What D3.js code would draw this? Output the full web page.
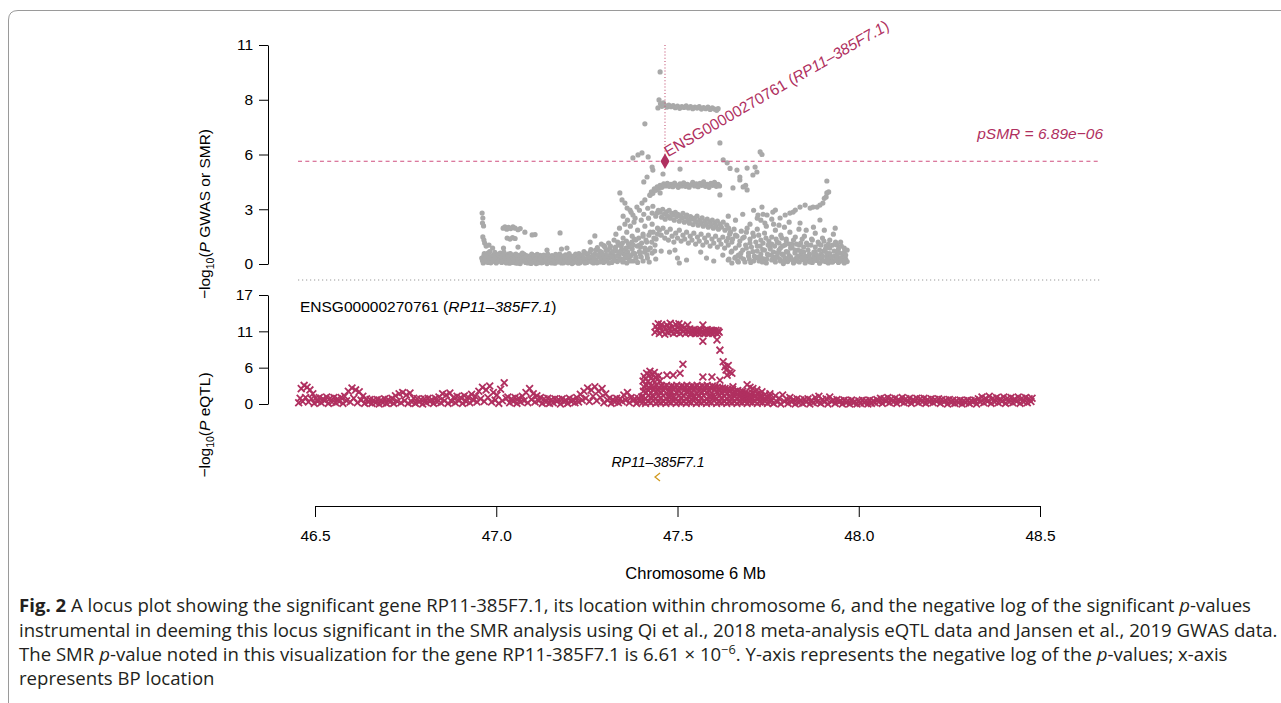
<!DOCTYPE html>
<html><head><meta charset="utf-8">
<script src="https://cdn.jsdelivr.net/npm/d3@7"></script>
<style>body{margin:0;background:#fff}svg{display:block}</style>
</head><body>
<svg id="c" width="1281" height="703"></svg>
<script>
// ---------- DATA ----------
const xTicks=[46.5,47.0,47.5,48.0,48.5];
const xTickLabels=["46.5","47.0","47.5","48.0","48.5"];
const gwasTicks=[0,2.75,5.5,8.25,11];
const gwasTickLabels=["0","3","6","8","11"];
const eqtlTicks=[0,17/3,34/3,17];
const eqtlTickLabels=["0","6","11","17"];

const smrProbe={id:"ENSG00000270761",gene:"RP11–385F7.1",mb:47.4655,logp:5.16};
const pSMR=6.89e-06;
const pSMRLabel="pSMR = 6.89e−06";
const genes=[{name:"RP11–385F7.1",start:47.440,end:47.447,strand:"-"}];

const gwasBase=[[46.960,0.30],[46.964,0.05],[46.967,0.52],[46.971,0.18],[46.975,0.40],[46.978,0.08],[46.982,0.62],[46.986,0.25],[46.989,0.12],[46.993,0.45],[46.997,0.20],[47.000,0.05],[47.004,0.35],[47.008,0.15],[47.011,0.55],[47.015,0.08],[47.019,0.28],[47.022,0.42],[47.026,0.10],[47.030,0.22],[47.033,0.50],[47.037,0.04],[47.041,0.32],[47.044,0.15],[47.048,0.45],[47.052,0.06],[47.055,0.25],[47.059,0.38],[47.063,0.12],[47.066,0.02],[47.070,0.30],[47.074,0.18],[47.077,0.48],[47.081,0.08],[47.085,0.26],[47.088,0.14],[47.092,0.40],[47.096,0.03],[47.099,0.20],[47.103,0.33],[47.107,0.10],[47.110,0.02],[47.114,0.28],[47.118,0.15],[47.121,0.44],[47.125,0.06],[47.129,0.22],[47.132,0.12],[47.136,0.36],[47.140,0.02],[47.143,0.18],[47.147,0.30],[47.151,0.08],[47.154,0.42],[47.158,0.14],[47.162,0.04],[47.165,0.26],[47.169,0.10],[47.173,0.38],[47.176,0.18],[47.180,0.05],[47.184,0.30],[47.187,0.12],[47.191,0.46],[47.195,0.20],[47.198,0.06],[47.202,0.34],[47.206,0.14],[47.209,0.02],[47.213,0.24],[47.217,0.40],[47.220,0.10],[47.224,0.18],[47.228,0.52],[47.231,0.06],[47.235,0.28],[47.239,0.14],[47.242,0.62],[47.246,0.22],[47.250,0.08],[47.253,0.40],[47.257,0.16],[47.261,0.72],[47.264,0.30],[47.268,0.05],[47.272,0.50],[47.275,0.20],[47.279,0.82],[47.283,0.35],[47.286,0.10],[47.290,0.60],[47.294,0.25],[47.297,0.92],[47.301,0.45],[47.305,0.15],[47.308,0.70],[47.312,0.30],[47.316,0.55],[47.319,0.08],[47.323,0.40],[47.327,0.20],[47.330,0.65],[47.334,0.12],[47.338,0.45],[47.341,0.28],[47.345,0.70],[47.349,0.10],[47.352,0.50],[47.356,0.32],[47.360,0.05],[47.363,0.60],[47.367,0.22],[47.371,0.42],[47.375,0.75],[47.378,0.15],[47.382,0.52],[47.386,0.30],[47.390,0.08],[47.395,0.62],[47.400,0.35],[47.405,0.15],[47.410,0.80],[47.416,0.45],[47.422,0.10],[47.430,0.55],[47.440,0.25],[47.455,0.65],[47.478,0.60],[47.500,0.30],[47.505,0.05],[47.580,0.30],[47.600,0.15],[47.625,0.45],[47.640,0.20],[47.650,0.65],[47.660,0.35],[47.668,0.10],[47.675,0.55],[47.682,0.25],[47.690,0.80],[47.696,0.40],[47.702,0.08],[47.708,0.62],[47.714,0.30],[47.720,0.90],[47.725,0.15],[47.730,0.50],[47.735,0.72],[47.740,0.25],[47.745,0.05],[47.750,0.45],[47.755,0.85],[47.760,0.20],[47.765,0.60],[47.770,0.10],[47.775,0.38],[47.780,0.70],[47.784,0.15],[47.788,0.50],[47.792,0.02],[47.796,0.30],[47.800,0.62],[47.804,0.12],[47.808,0.42],[47.812,0.80],[47.816,0.22],[47.820,0.05],[47.824,0.55],[47.828,0.30],[47.832,0.70],[47.836,0.10],[47.840,0.45],[47.844,0.22],[47.848,0.60],[47.852,0.05],[47.856,0.35],[47.860,0.15],[47.864,0.50],[47.868,0.25],[47.872,0.08],[47.876,0.40],[47.880,0.62],[47.884,0.18],[47.888,0.30],[47.892,0.04],[47.896,0.48],[47.900,0.20],[47.904,0.65],[47.908,0.12],[47.912,0.35],[47.916,0.05],[47.920,0.52],[47.924,0.25],[47.928,0.10],[47.932,0.40],[47.936,0.18],[47.940,0.60],[47.944,0.08],[47.948,0.30],[47.952,0.15],[47.956,0.45],[47.960,0.05],[47.964,0.25],[47.968,0.12]];

const gwasBaseFill=[[46.962,0.18],[46.966,0.42],[46.970,0.28],[46.974,0.10],[46.977,0.55],[46.981,0.32],[46.985,0.06],[46.988,0.40],[46.992,0.22],[46.996,0.58],[46.999,0.30],[47.003,0.12],[47.006,0.48],[47.010,0.26],[47.014,0.38],[47.017,0.16],[47.021,0.60],[47.025,0.30],[47.028,0.05],[47.032,0.40],[47.036,0.20],[47.039,0.52],[47.043,0.08],[47.047,0.30],[47.050,0.20],[47.054,0.50],[47.058,0.04],[47.061,0.22],[47.065,0.45],[47.069,0.14],[47.072,0.55],[47.076,0.30],[47.080,0.18],[47.083,0.42],[47.087,0.05],[47.091,0.30],[47.094,0.18],[47.098,0.50],[47.102,0.10],[47.105,0.42],[47.109,0.24],[47.113,0.48],[47.116,0.06],[47.120,0.26],[47.124,0.34],[47.127,0.08],[47.131,0.45],[47.135,0.18],[47.138,0.28],[47.142,0.50],[47.146,0.12],[47.149,0.22],[47.153,0.05],[47.157,0.36],[47.160,0.20],[47.164,0.48],[47.168,0.28],[47.171,0.12],[47.175,0.50],[47.179,0.24],[47.182,0.40],[47.186,0.06],[47.190,0.22],[47.193,0.34],[47.197,0.12],[47.201,0.52],[47.204,0.24],[47.208,0.40],[47.212,0.06],[47.215,0.32],[47.219,0.50],[47.223,0.26],[47.226,0.04],[47.230,0.36],[47.234,0.18],[47.237,0.44],[47.241,0.30],[47.245,0.05],[47.248,0.52],[47.252,0.28],[47.256,0.36],[47.259,0.60],[47.263,0.10],[47.267,0.42],[47.270,0.28],[47.274,0.70],[47.278,0.06],[47.281,0.45],[47.285,0.65],[47.289,0.30],[47.292,0.50],[47.296,0.08],[47.300,0.30],[47.303,0.68],[47.307,0.42],[47.311,0.05],[47.314,0.80],[47.318,0.35],[47.322,0.62],[47.325,0.18],[47.329,0.85],[47.333,0.40],[47.337,0.95],[47.340,0.20],[47.344,0.55],[47.348,1.05],[47.351,0.25],[47.355,0.72],[47.359,1.15],[47.362,0.40],[47.366,0.85],[47.370,0.15],[47.374,1.10],[47.378,0.55],[47.381,1.25],[47.385,0.35],[47.389,0.90],[47.393,1.30],[47.397,0.50],[47.401,1.05],[47.405,1.40],[47.409,0.60],[47.413,1.20],[47.417,0.30],[47.421,1.45],[47.425,0.80],[47.429,1.10],[47.433,1.60],[47.437,0.65],[47.441,1.25],[47.445,1.50]];

const gwasLeft=[[46.961,2.56],[46.963,2.31],[46.962,2.06],[46.965,1.91],[46.963,1.36],[46.966,1.20],[46.968,1.05],[46.972,0.90],[46.980,0.95],[46.990,0.80],[47.019,1.80],[47.024,1.86],[47.029,1.75],[47.034,1.84],[47.040,1.78],[47.046,1.86],[47.052,1.80],[47.060,1.72],[47.066,1.78],[47.030,1.30],[47.038,1.25],[47.045,1.32],[47.052,1.28],[47.079,1.60],[47.099,1.46],[47.107,1.48],[47.176,1.56],[47.272,1.41],[47.259,1.10],[47.020,0.80],[47.060,0.85],[47.180,0.75],[47.195,0.80],[47.140,0.70],[47.290,1.00],[47.300,0.85],[47.310,1.05],[47.315,0.90],[47.325,1.20],[47.328,0.80]];

const gwasRise=[[47.341,3.57],[47.347,3.22],[47.355,3.06],[47.361,2.81],[47.369,2.71],[47.377,2.46],[47.388,2.86],[47.402,3.06],[47.410,3.22],[47.424,3.47],[47.430,2.56],[47.443,2.56],[47.452,3.57],[47.330,1.50],[47.335,1.10],[47.340,1.80],[47.345,0.90],[47.350,1.30],[47.355,2.00],[47.360,1.60],[47.365,1.00],[47.370,1.90],[47.375,1.40],[47.380,2.10],[47.385,1.20],[47.390,1.70],[47.395,0.95],[47.400,2.20],[47.405,1.50],[47.410,1.90],[47.415,1.10],[47.420,2.30],[47.425,1.60],[47.430,2.00],[47.435,1.30],[47.440,2.40],[47.445,1.80],[47.350,2.40],[47.362,2.20],[47.372,2.60],[47.383,2.30],[47.395,2.70],[47.407,2.50],[47.418,2.80],[47.432,2.90],[47.447,2.70],[47.338,0.60],[47.358,0.80],[47.378,0.95],[47.398,0.85],[47.418,0.70],[47.438,0.95]];

const gwasRibbonHigh=[[47.452,2.60],[47.456,2.35],[47.459,2.75],[47.463,2.50],[47.466,2.25],[47.470,2.62],[47.473,2.40],[47.477,2.70],[47.480,2.30],[47.484,2.55],[47.487,2.45],[47.491,2.20],[47.494,2.60],[47.498,2.38],[47.501,2.50],[47.505,2.15],[47.508,2.42],[47.512,2.30],[47.515,2.55],[47.519,2.10],[47.522,2.35],[47.526,2.45],[47.529,2.20],[47.533,2.05],[47.536,2.38],[47.540,2.25],[47.543,1.98],[47.547,2.30],[47.550,2.12],[47.554,2.40],[47.557,1.95],[47.561,2.20],[47.564,2.05],[47.568,2.32],[47.571,1.90],[47.575,2.15],[47.578,2.00],[47.582,2.25],[47.585,1.85],[47.589,2.10],[47.592,1.95],[47.596,2.20],[47.599,1.80],[47.603,2.05],[47.606,1.90],[47.610,2.15],[47.613,1.75],[47.617,2.00],[47.621,1.85],[47.626,2.10],[47.631,1.70],[47.636,1.95],[47.641,1.80],[47.646,1.60],[47.640,2.40],[47.660,2.20],[47.680,2.50],[47.700,2.00],[47.720,2.30],[47.710,2.70],[47.722,2.46],[47.730,2.20]];

const gwasRibbonLow=[[47.450,1.70],[47.455,1.45],[47.460,1.80],[47.465,1.30],[47.470,1.60],[47.475,1.20],[47.480,1.75],[47.485,1.40],[47.490,1.10],[47.495,1.55],[47.500,1.30],[47.505,1.70],[47.510,1.15],[47.515,1.45],[47.520,1.25],[47.525,1.60],[47.530,1.05],[47.535,1.40],[47.540,1.20],[47.545,1.55],[47.550,1.00],[47.555,1.35],[47.560,1.15],[47.565,1.50],[47.570,0.95],[47.575,1.30],[47.580,1.10],[47.585,1.45],[47.590,0.90],[47.595,1.25],[47.600,1.05],[47.605,1.40],[47.610,0.85],[47.615,1.20],[47.620,1.00],[47.625,1.35],[47.630,0.80],[47.635,1.15],[47.493,0.70],[47.525,0.20],[47.564,0.60]];

const gwasArc=[[47.424,3.45],[47.428,3.62],[47.432,3.55],[47.436,3.78],[47.440,3.70],[47.444,3.88],[47.448,3.80],[47.452,3.95],[47.457,3.85],[47.462,4.02],[47.467,3.92],[47.472,4.05],[47.477,3.90],[47.482,4.00],[47.487,3.88],[47.492,4.06],[47.497,3.95],[47.502,3.85],[47.507,4.02],[47.512,3.92],[47.517,4.08],[47.522,3.90],[47.527,4.00],[47.532,3.86],[47.537,3.98],[47.542,4.10],[47.547,3.92],[47.552,4.02],[47.557,3.88],[47.562,4.05],[47.567,3.95],[47.572,4.12],[47.577,3.90],[47.582,4.00],[47.587,3.85],[47.592,4.05],[47.597,3.95],[47.602,4.10],[47.607,3.90],[47.612,4.00],[47.616,3.92],[47.617,3.47]];

const gwasPeak=[[47.452,9.65],[47.410,7.04],[47.446,7.84],[47.449,8.24],[47.453,8.05],[47.457,7.92],[47.461,8.10],[47.466,7.96],[47.471,7.88],[47.476,7.98],[47.482,7.90],[47.488,7.95],[47.494,7.85],[47.500,7.93],[47.506,7.82],[47.512,7.90],[47.518,7.86],[47.524,7.94],[47.530,7.84],[47.536,7.90],[47.542,7.80],[47.548,7.88],[47.554,7.83],[47.560,7.90],[47.566,7.78],[47.572,7.85],[47.578,7.80],[47.584,7.88],[47.590,7.76],[47.596,7.84],[47.602,7.78],[47.608,7.72],[47.612,7.80],
[47.377,5.33],[47.391,5.48],[47.402,5.58],[47.419,5.38],[47.430,4.87],[47.432,4.72],[47.416,4.37],[47.407,4.12],[47.460,4.52],[47.507,4.77],[47.617,6.08],[47.626,5.23],[47.637,5.08],[47.645,4.80],[47.664,4.72],[47.692,4.82],[47.708,4.47],[47.714,4.87],[47.719,4.62],[47.672,4.22],[47.672,4.37],[47.681,3.87],[47.688,3.95],[47.653,3.82],[47.692,3.72],[47.728,5.63],[47.733,5.50]];

const gwasRight=[[47.733,2.86],[47.736,2.50],[47.741,2.06],[47.763,2.61],[47.747,2.46],[47.783,2.31],[47.797,2.46],[47.810,2.56],[47.825,2.71],[47.838,2.86],[47.852,2.96],[47.866,2.81],[47.885,2.86],[47.901,3.06],[47.905,3.30],[47.912,3.57],[47.917,3.62],[47.912,4.17],[47.893,2.21],[47.770,2.71],[47.819,2.61],[47.874,2.86],[47.893,2.96],[47.910,3.37],[47.838,2.06],[47.780,1.95],[47.808,2.10],[47.760,2.25],
[47.640,1.30],[47.650,1.10],[47.660,1.45],[47.670,0.95],[47.680,1.30],[47.690,1.60],[47.700,1.05],[47.710,1.40],[47.720,1.75],[47.730,1.20],[47.740,1.55],[47.750,0.95],[47.760,1.35],[47.770,1.70],[47.775,1.10],[47.785,1.45],[47.790,0.90],[47.800,1.25],[47.810,1.60],[47.815,1.00],[47.825,1.35],[47.835,1.75],[47.840,1.05],[47.850,1.40],[47.860,0.95],[47.870,1.25],[47.880,1.55],[47.890,1.00],[47.900,1.30],[47.910,0.90],[47.920,1.20],[47.930,1.50],[47.940,0.95],[47.950,1.10],[47.960,0.80],[47.745,1.90],[47.765,2.00],[47.795,1.85],[47.855,1.70],[47.875,1.85],[47.905,1.70],[47.935,1.80]];

const gwasRightMass=[[47.640,0.95],[47.644,1.50],[47.648,0.60],[47.652,1.25],[47.656,1.75],[47.660,0.80],[47.664,1.40],[47.668,0.45],[47.672,1.15],[47.676,1.65],[47.680,0.70],[47.684,1.35],[47.688,0.95],[47.692,1.80],[47.696,0.55],[47.700,1.25],[47.704,0.85],[47.708,1.55],[47.712,0.40],[47.716,1.10],[47.720,0.65],[47.724,1.45],[47.728,0.90],[47.732,0.30],[47.736,1.05],[47.740,0.70],[47.744,1.30],[47.748,0.50],[47.752,1.15],[47.756,0.75],[47.760,1.00],[47.764,0.35],[47.768,0.90],[47.772,1.25],[47.776,0.55],[47.780,1.05],[47.784,0.80],[47.788,1.30],[47.792,0.45],[47.796,0.95],[47.800,1.15],[47.804,0.60],[47.808,1.00],[47.812,0.35],[47.816,0.85],[47.820,1.20],[47.824,0.70],[47.828,1.00],[47.832,0.40],[47.836,0.95],[47.840,0.65],[47.844,1.25],[47.848,0.85],[47.852,0.40],[47.856,1.05],[47.860,0.70],[47.864,0.30],[47.868,0.95],[47.872,1.20],[47.876,0.60],[47.880,0.85],[47.884,0.45],[47.888,1.10],[47.892,0.70],[47.896,0.95],[47.900,0.40],[47.904,1.15],[47.908,0.75],[47.912,0.55],[47.916,1.00],[47.920,0.80],[47.924,0.35],[47.928,0.95],[47.932,0.65],[47.936,1.10],[47.940,0.40],[47.944,0.75],[47.948,0.55],[47.952,0.90],[47.956,0.30],[47.960,0.60],[47.964,0.45],[47.968,0.70],[47.642,0.25],[47.650,0.05],[47.658,0.30],[47.666,0.15],[47.674,0.35],[47.686,0.10],[47.698,0.25],[47.710,0.15],[47.722,0.35],[47.734,0.10],[47.746,0.25],[47.758,0.45],[47.770,0.30],[47.782,0.25],[47.794,0.15],[47.806,0.30],[47.818,0.20],[47.830,0.15],[47.842,0.30],[47.854,0.20],[47.866,0.10],[47.878,0.25],[47.890,0.30],[47.902,0.15],[47.914,0.25],[47.926,0.10],[47.938,0.20],[47.950,0.25],[47.962,0.20]];

const eqtlBaseLeft=[[46.455,0.2],[46.459,0.9],[46.462,2.4],[46.466,0.4],[46.470,2.9],[46.474,1.0],[46.478,2.6],[46.482,0.3],[46.486,2.2],[46.490,0.8],[46.494,1.6],[46.498,0.1],[46.502,0.9],[46.507,0.4],[46.512,1.0],[46.517,0.2],[46.522,0.8],[46.527,0.5],[46.532,1.1],[46.537,0.1],[46.542,0.9],[46.547,0.3],[46.552,1.0],[46.557,0.2],[46.562,0.8],[46.567,0.4],[46.572,1.0],[46.577,0.1],[46.582,1.2],[46.587,0.5],[46.592,2.0],[46.597,0.3],[46.602,2.5],[46.607,0.9],[46.612,2.2],[46.617,0.2],[46.622,1.9],[46.627,0.6],[46.632,1.2],[46.637,0.1],[46.642,0.8],[46.647,0.3],[46.652,0.7],[46.657,0.1],[46.662,0.6],[46.667,0.2],[46.672,0.7],[46.677,0.0],[46.682,0.6],[46.687,0.2],[46.692,0.8],[46.697,0.1],[46.702,0.7],[46.707,0.3],[46.712,0.9],[46.717,0.1],[46.722,1.3],[46.727,0.4],[46.732,1.6],[46.737,0.2],[46.742,1.8],[46.747,0.5],[46.752,1.4],[46.757,0.1],[46.762,1.7],[46.767,0.3],[46.772,0.9],[46.777,0.1],[46.782,0.8],[46.787,0.3],[46.792,0.7],[46.797,0.0],[46.802,0.8],[46.807,0.2],[46.812,0.9],[46.817,0.4],[46.822,0.7],[46.827,0.1],[46.832,0.9],[46.837,0.3],[46.842,1.1],[46.847,0.2],[46.852,1.6],[46.857,0.5],[46.862,1.4],[46.867,0.1],[46.872,1.7],[46.877,0.4],[46.882,1.0],[46.887,0.2],[46.892,1.2],[46.897,0.5],[46.902,1.0],[46.907,0.1],[46.912,1.3],[46.917,0.4],[46.922,1.1],[46.927,0.2],[46.932,1.5],[46.937,0.6],[46.942,1.2],[46.947,0.3],[46.952,2.0],[46.957,0.8],[46.962,2.6],[46.967,0.4],[46.972,2.2],[46.977,1.0],[46.982,2.8],[46.987,0.3],[46.992,1.8],[46.997,0.6],[47.002,1.4],[47.007,0.1],[47.012,2.3],[47.017,0.5],[47.022,3.3],[47.027,0.9],[47.032,1.1],[47.037,0.2],[47.042,0.8],[47.047,0.4],[47.052,1.0],[47.057,0.1],[47.062,0.9],[47.067,0.3],[47.072,1.2],[47.077,0.5],[47.082,1.8],[47.087,0.2],[47.092,2.4],[47.097,0.7],[47.102,1.6],[47.107,0.3],[47.112,1.3],[47.117,0.5],[47.122,1.0],[47.127,0.1],[47.132,0.8],[47.137,0.3],[47.142,0.9],[47.147,0.1],[47.152,0.7],[47.157,0.2],[47.162,0.8],[47.167,0.4],[47.172,0.7],[47.177,0.0],[47.182,0.8],[47.187,0.3],[47.192,0.6],[47.197,0.1],[47.202,0.9],[47.207,0.4],[47.212,0.7],[47.217,0.2],[47.222,1.0],[47.227,0.3],[47.232,1.5],[47.237,0.6],[47.242,2.0],[47.247,0.9],[47.252,2.5],[47.257,0.4],[47.262,2.2],[47.267,1.2],[47.272,2.7],[47.277,0.5],[47.282,2.0],[47.287,1.0],[47.292,2.4],[47.297,0.2],[47.302,1.6],[47.307,0.6],[47.312,0.9],[47.317,0.1],[47.322,0.7],[47.327,0.3],[47.332,0.9],[47.337,0.2],[47.342,0.8],[47.347,0.4],[47.352,1.4],[47.357,0.6],[47.362,1.8],[47.367,0.2],[47.372,1.0],[47.377,0.5],[47.382,0.8],[47.387,0.1],[47.392,0.9],[47.397,0.4],[47.401,1.1]];

const eqtlRaised=[[47.405,0.3],[47.405,1.2],[47.406,2.0],[47.407,2.7],[47.412,0.1],[47.412,0.9],[47.413,1.8],[47.414,2.9],[47.419,0.4],[47.419,1.3],[47.420,2.1],[47.421,2.6],[47.426,0.2],[47.426,1.0],[47.427,1.7],[47.428,2.8],[47.433,0.5],[47.433,1.1],[47.434,2.2],[47.435,2.7],[47.440,0.1],[47.440,0.9],[47.441,1.9],[47.442,2.9],[47.447,0.3],[47.447,1.2],[47.448,2.0],[47.449,2.6],[47.454,0.2],[47.454,1.0],[47.455,1.8],[47.456,2.8],[47.461,0.4],[47.461,1.3],[47.462,2.1],[47.463,2.7],[47.468,0.1],[47.468,0.9],[47.469,1.7],[47.470,2.9],[47.475,0.3],[47.475,1.1],[47.476,2.0],[47.477,2.6],[47.482,0.2],[47.482,1.2],[47.483,1.9],[47.484,2.8],[47.489,0.5],[47.489,1.0],[47.490,2.2],[47.491,2.7],[47.496,0.1],[47.496,0.8],[47.497,1.8],[47.498,2.9],[47.503,0.3],[47.503,1.3],[47.504,2.0],[47.505,2.6],[47.510,0.2],[47.510,1.0],[47.511,1.7],[47.512,2.8],[47.517,0.4],[47.517,1.2],[47.518,2.1],[47.519,2.7],[47.524,0.1],[47.524,0.9],[47.525,1.9],[47.526,2.9],[47.531,0.3],[47.531,1.1],[47.532,2.0],[47.533,2.6],[47.538,0.2],[47.538,1.3],[47.539,1.8],[47.540,2.8],[47.545,0.5],[47.545,1.0],[47.546,2.2],[47.547,2.7],[47.552,0.1],[47.552,0.9],[47.553,1.7],[47.554,2.9],[47.559,0.3],[47.559,1.2],[47.560,2.0],[47.561,2.6],[47.566,0.2],[47.566,1.0],[47.567,1.9],[47.568,2.8],[47.573,0.4],[47.573,1.3],[47.574,2.1],[47.575,2.7],[47.580,0.1],[47.580,0.8],[47.581,1.8],[47.582,2.9],[47.587,0.3],[47.587,1.1],[47.588,2.0],[47.589,2.6],[47.594,0.2],[47.594,1.2],[47.595,1.7],[47.596,2.8],[47.601,0.5],[47.601,1.0],[47.602,2.2],[47.603,2.7],[47.608,0.1],[47.608,0.9],[47.609,1.9],[47.610,2.6],[47.615,0.3],[47.615,1.2],[47.616,2.0],[47.617,2.5]];

const eqtlDecline=[[47.622,0.2],[47.622,1.0],[47.623,1.8],[47.624,2.5],[47.629,0.4],[47.629,1.2],[47.630,2.0],[47.631,2.4],[47.636,0.1],[47.636,0.9],[47.637,1.7],[47.638,2.3],[47.643,0.3],[47.643,1.1],[47.644,1.9],[47.645,2.2],[47.650,0.2],[47.650,1.0],[47.651,1.6],[47.652,2.3],[47.657,0.4],[47.657,1.2],[47.658,1.8],[47.659,2.0],[47.664,0.1],[47.664,0.9],[47.665,1.5],[47.666,2.1],[47.671,0.3],[47.671,1.1],[47.672,1.7],[47.673,1.9],[47.678,0.2],[47.678,1.0],[47.679,1.6],[47.680,2.0],[47.685,0.4],[47.685,0.9],[47.686,1.4],[47.687,1.8],[47.692,0.1],[47.692,1.1],[47.693,1.6],[47.699,0.3],[47.699,0.9],[47.700,1.5],[47.706,0.2],[47.706,1.0],[47.707,1.7],[47.713,0.4],[47.713,1.1],[47.714,1.4],[47.720,0.1],[47.720,0.9],[47.721,1.6],[47.727,0.3],[47.727,1.0],[47.728,1.3],[47.734,0.2],[47.734,1.1],[47.741,0.4],[47.741,0.9],[47.742,1.5],[47.748,0.1],[47.748,1.0],[47.755,0.3],[47.755,1.2]];

const eqtlBaseRight=[[47.760,0.6],[47.765,0.1],[47.770,1.3],[47.775,0.3],[47.780,0.9],[47.785,0.0],[47.790,1.4],[47.795,0.4],[47.800,0.8],[47.805,0.1],[47.810,1.0],[47.815,0.3],[47.820,0.7],[47.825,0.0],[47.830,0.8],[47.835,0.2],[47.840,0.6],[47.845,0.1],[47.850,0.7],[47.855,0.3],[47.860,0.8],[47.865,0.0],[47.870,0.6],[47.875,0.2],[47.880,1.0],[47.885,0.3],[47.890,1.2],[47.895,0.1],[47.900,0.7],[47.905,0.3],[47.910,0.8],[47.915,0.0],[47.920,1.1],[47.925,0.4],[47.930,0.6],[47.935,0.1],[47.940,0.7],[47.945,0.3],[47.950,0.5],[47.955,0.0],[47.960,0.6],[47.965,0.2],[47.970,0.5],[47.975,0.0],[47.980,0.6],[47.985,0.2],[47.990,0.4],[47.995,0.0],[48.000,0.5],[48.005,0.1],[48.010,0.6],[48.015,0.2],[48.020,0.5],[48.025,0.0],[48.030,0.6],[48.035,0.1],[48.040,0.5],[48.045,0.2],[48.050,0.7],[48.055,0.3],[48.060,0.9],[48.065,0.1],[48.070,0.8],[48.075,0.4],[48.080,1.0],[48.085,0.2],[48.090,0.8],[48.095,0.3],[48.100,0.9],[48.105,0.1],[48.110,0.7],[48.115,0.4],[48.120,1.0],[48.125,0.2],[48.130,0.8],[48.135,0.3],[48.140,0.9],[48.145,0.1],[48.150,0.7],[48.155,0.4],[48.160,0.9],[48.165,0.2],[48.170,0.8],[48.175,0.3],[48.180,0.9],[48.185,0.1],[48.190,0.7],[48.195,0.3],[48.200,0.8],[48.205,0.2],[48.210,0.7],[48.215,0.4],[48.220,0.8],[48.225,0.1],[48.230,0.7],[48.235,0.3],[48.240,0.6],[48.245,0.0],[48.250,0.7],[48.255,0.2],[48.260,0.6],[48.265,0.1],[48.270,0.5],[48.275,0.2],[48.280,0.6],[48.285,0.0],[48.290,0.5],[48.295,0.2],[48.300,0.6],[48.305,0.1],[48.310,0.5],[48.315,0.3],[48.320,0.6],[48.325,0.0],[48.330,0.8],[48.335,0.3],[48.340,1.1],[48.345,0.2],[48.350,0.9],[48.355,0.4],[48.360,1.2],[48.365,0.1],[48.370,0.9],[48.375,0.3],[48.380,1.0],[48.385,0.2],[48.390,0.8],[48.395,0.4],[48.400,1.1],[48.405,0.1],[48.410,0.9],[48.415,0.3],[48.420,1.0],[48.425,0.2],[48.430,0.8],[48.435,0.4],[48.440,1.1],[48.445,0.1],[48.450,0.9],[48.455,0.3],[48.460,1.0],[48.465,0.2],[48.470,0.8],[48.475,0.4],[48.478,0.9]];

const eqtlTop=[[47.438,11.2],[47.440,12.1],[47.444,11.6],[47.447,12.5],[47.450,11.0],[47.453,11.9],[47.456,12.4],[47.459,11.3],[47.462,12.0],[47.465,10.9],[47.468,11.7],[47.471,12.3],[47.474,11.1],[47.477,11.8],[47.480,12.6],[47.483,11.3],[47.486,12.0],[47.489,11.0],[47.492,11.6],[47.495,12.4],[47.498,11.2],[47.501,11.9],[47.504,12.5],[47.507,11.0],[47.510,11.7],[47.513,12.2],[47.516,11.3],[47.519,11.9],[47.522,11.0],[47.525,11.6],[47.528,12.3],[47.531,11.2],[47.534,11.7],[47.537,11.0],[47.540,11.5],[47.543,11.2],[47.546,11.6],[47.549,11.0],[47.552,11.4],[47.555,11.1],[47.558,11.5],[47.561,11.0],[47.564,11.6],[47.567,11.2],[47.570,12.3],[47.573,11.0],[47.576,11.5],[47.579,11.2],[47.582,11.6],[47.585,11.0],[47.588,11.4],[47.591,11.1],[47.594,11.5],[47.597,11.0],[47.600,11.4],[47.603,11.2],[47.606,11.5],[47.609,11.0],[47.612,11.4],[47.615,11.2]];

const eqtlScatter=[[47.405,3.6],[47.408,4.3],[47.412,3.9],[47.415,4.8],[47.418,3.5],[47.421,4.5],[47.424,5.1],[47.427,4.0],[47.430,4.6],[47.433,3.7],[47.436,4.9],[47.440,4.2],[47.444,3.8],[47.448,4.4],[47.452,3.6],[47.471,4.5],[47.488,4.5],[47.507,4.8],[47.515,6.2],[47.570,4.2],[47.595,4.2],[47.617,3.7],[47.570,9.8],[47.609,10.0],[47.617,8.4],[47.626,6.6],[47.631,5.8],[47.634,5.3],[47.640,6.0],[47.637,4.5],[47.645,5.0],[47.650,4.8],[47.653,2.7],[47.692,3.0],[47.700,2.6],[47.719,2.2],[47.733,1.9],[47.755,1.6],[47.708,2.4]];

// ---------- DRAW ----------
const svg=d3.select("#c");
const F="'Liberation Sans', Arial, Helvetica, sans-serif";
const FS=15.5;
const maroon="#B03060";
const x=d3.scaleLinear().domain([46.5,48.5]).range([315,1040]);
const yG=d3.scaleLinear().domain([0,11]).range([264,45]);
const yE=d3.scaleLinear().domain([0,17]).range([404,295]);
const plotL=298, plotR=1100;

// frame
svg.append("path").attr("d","M8.5,703 L8.5,20 Q8.5,10.5 18,10.5 L1281,10.5")
  .attr("fill","none").attr("stroke","#9a9a9a").attr("stroke-width",1);

function styleAxis(g){
  g.selectAll("path.domain").attr("stroke","#000");
  g.selectAll(".tick line").attr("stroke","#000");
  g.selectAll("text").attr("font-family",F).attr("font-size",FS).attr("fill","#000");
}
svg.append("g").attr("transform","translate(268,0)")
  .call(d3.axisLeft(yG).tickValues(gwasTicks).tickFormat((d,i)=>gwasTickLabels[i]).tickSize(9).tickPadding(6).tickSizeOuter(0))
  .call(styleAxis);
svg.append("g").attr("transform","translate(268,0)")
  .call(d3.axisLeft(yE).tickValues(eqtlTicks).tickFormat((d,i)=>eqtlTickLabels[i]).tickSize(9).tickPadding(6).tickSizeOuter(0))
  .call(styleAxis);
svg.append("g").attr("transform","translate(0,506)")
  .call(d3.axisBottom(x).tickValues(xTicks).tickFormat((d,i)=>xTickLabels[i]).tickSize(11).tickPadding(13).tickSizeOuter(0))
  .call(styleAxis);

// y titles
function yTitle(cx,cy,rest){
  const t=svg.append("text").attr("transform",`translate(${cx},${cy}) rotate(-90)`)
    .attr("text-anchor","middle").attr("font-family",F).attr("font-size",FS).attr("fill","#000");
  t.append("tspan").text("−log");
  t.append("tspan").attr("font-size",10.5).attr("dy",4).text("10");
  t.append("tspan").attr("dy",-4).text("(");
  t.append("tspan").attr("font-style","italic").text("P");
  t.append("tspan").text(rest);
}
yTitle(210,214," GWAS or SMR)");
yTitle(210,425," eQTL)");

// x title
svg.append("text").attr("x",x(47.5)+18).attr("y",579).attr("text-anchor","middle")
  .attr("font-family",F).attr("font-size",16.5).text("Chromosome 6 Mb");

// separator dotted line
svg.append("line").attr("x1",plotL).attr("x2",plotR).attr("y1",280).attr("y2",280)
  .attr("stroke","#9a9a9a").attr("stroke-width",1.2).attr("stroke-dasharray","1.2,2.8");

// GWAS points
const gwasAll=[].concat(gwasBase,gwasBaseFill,gwasLeft,gwasRise,gwasRibbonHigh,gwasRibbonLow,gwasArc,gwasPeak,gwasRight,gwasRightMass);
svg.append("g").selectAll("circle").data(gwasAll).join("circle")
  .attr("cx",d=>x(d[0])).attr("cy",d=>yG(d[1])).attr("r",2.6).attr("fill","#a9a9a9");

// SMR threshold line
const smrY=yG(-Math.log10(pSMR));
svg.append("line").attr("x1",plotL).attr("x2",plotR).attr("y1",smrY).attr("y2",smrY)
  .attr("stroke","#cf4f7f").attr("stroke-width",1.2).attr("stroke-dasharray","4,3.3");
svg.append("line").attr("x1",x(smrProbe.mb)).attr("x2",x(smrProbe.mb)).attr("y1",yG(11)).attr("y2",yG(smrProbe.logp))
  .attr("stroke","#c8607f").attr("stroke-width",1.2).attr("stroke-dasharray","1,2.2");
svg.append("text").attr("x",1103).attr("y",139).attr("text-anchor","end")
  .attr("font-family",F).attr("font-size",FS).attr("font-style","italic").attr("fill",maroon).text(pSMRLabel);

// probe diamond + rotated label
svg.append("path").attr("d",d3.symbol(d3.symbolDiamond,70)())
  .attr("transform",`translate(${x(smrProbe.mb)},${yG(smrProbe.logp)})`).attr("fill",maroon);
{
  const t=svg.append("text").attr("transform",`translate(${x(smrProbe.mb)+3},${yG(smrProbe.logp)-4}) rotate(-30)`)
    .attr("font-family",F).attr("font-size",FS).attr("fill",maroon);
  t.append("tspan").text(smrProbe.id+" (");
  t.append("tspan").attr("font-style","italic").text(smrProbe.gene);
  t.append("tspan").text(")");
}

// eQTL panel label
{
  const t=svg.append("text").attr("x",300).attr("y",312).attr("font-family",F).attr("font-size",FS).attr("fill","#000");
  t.append("tspan").text(smrProbe.id+" (");
  t.append("tspan").attr("font-style","italic").text(smrProbe.gene);
  t.append("tspan").text(")");
}

// eQTL crosses
const eqtlAll=[].concat(eqtlBaseLeft,eqtlRaised,eqtlDecline,eqtlBaseRight,eqtlTop,eqtlScatter);
const cr=3.4;
svg.append("g").selectAll("path").data(eqtlAll).join("path")
  .attr("d",d=>{const cx=x(d[0]),cy=yE(d[1]);return `M${cx-cr},${cy-cr}L${cx+cr},${cy+cr}M${cx-cr},${cy+cr}L${cx+cr},${cy-cr}`;})
  .attr("stroke",maroon).attr("stroke-width",1.8).attr("fill","none");

// gene track
genes.forEach(g=>{
  const gx=x((g.start+g.end)/2);
  svg.append("text").attr("x",gx+1).attr("y",467).attr("text-anchor","middle")
    .attr("font-family",F).attr("font-size",14).attr("font-style","italic").text(g.name);
  svg.append("path").attr("d",`M${gx+3},${473}L${gx-2},${477}L${gx+3},${481}`)
    .attr("fill","none").attr("stroke","#d19a1f").attr("stroke-width",1.3);
});

// caption
const cap=svg.append("g").attr("font-family","'Open Sans', 'Noto Sans', sans-serif").attr("font-size",17.5).attr("fill","#231f20");
const lines=[
  [["Fig. 2","b"],[" A locus plot showing the significant gene RP11-385F7.1, its location within chromosome 6, and the negative log of the significant ",""],["p","i"],["-values",""]],
  [["instrumental in deeming this locus significant in the SMR analysis using Qi et al., 2018 meta-analysis eQTL data and Jansen et al., 2019 GWAS data.",""]],
  [["The SMR ",""],["p","i"],["-value noted in this visualization for the gene RP11-385F7.1 is 6.61 × 10",""],["−6","sup"],[". Y-axis represents the negative log of the ",""],["p","i"],["-values; x-axis",""]],
  [["represents BP location",""]]
];
const baselines=[612,637,661,685];
const texts=lines.map((ln,i)=>{
  const t=cap.append("text").attr("x",0).attr("y",baselines[i]);
  ln.forEach(([s,st],j)=>{
    const sp=t.append("tspan").text(s);
    if(st==="b") sp.attr("font-weight","bold");
    if(st==="i") sp.attr("font-style","italic");
    if(st==="sup"){ sp.attr("font-size",12).attr("dy",-7); }
    if(j>0 && ln[j-1][1]==="sup") sp.attr("dy",7);
  });
  return t;
});
const w=texts[0].node().getComputedTextLength();
const s=1233/w;
cap.attr("transform",`translate(19,0) scale(${s},1)`);
</script>
</body></html>
